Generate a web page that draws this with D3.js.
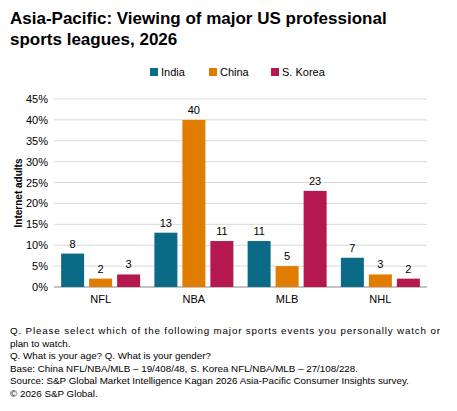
<!DOCTYPE html>
<html><head><meta charset="utf-8">
<script src="https://cdn.jsdelivr.net/npm/d3@7"></script>
<style>body{margin:0;background:#fff;font-family:"Liberation Sans",Arial,sans-serif}</style>
</head><body><svg id="c" width="457" height="411"></svg>
<script>
const leagues = ["NFL", "NBA", "MLB", "NHL"];
const seriesNames = ["India", "China", "S. Korea"];
const india = [8, 13, 11, 7];
const china = [2, 40, 5, 3];
const korea = [3, 11, 23, 2];
const yTicks = [0, 5, 10, 15, 20, 25, 30, 35, 40, 45];
const colors = ["#0b6b87", "#e07c00", "#b5174f"];
const notes = [
  "Q. Please select which of the following major sports events you personally watch or",
  "plan to watch.",
  "Q. What is your age? Q. What is your gender?",
  "Base: China NFL/NBA/MLB \u2013 19/408/48, S. Korea NFL/NBA/MLB \u2013 27/108/228.",
  "Source: S&P Global Market Intelligence Kagan 2026 Asia-Pacific Consumer Insights survey.",
  "\u00a9 2026 S&P Global."
];

const svg = d3.select("#c");
const all = [india, china, korea];

// title
svg.append("text").attr("x", 10).attr("y", 24).attr("font-size", 17).attr("font-weight", "bold")
  .text("Asia-Pacific: Viewing of major US professional");
svg.append("text").attr("x", 10).attr("y", 45).attr("font-size", 17).attr("font-weight", "bold")
  .text("sports leagues, 2026");

// legend
const lg = svg.append("g").attr("font-size", 11);
const lx = [150, 209, 271];
seriesNames.forEach((s, i) => {
  lg.append("rect").attr("x", lx[i]).attr("y", 68).attr("width", 8).attr("height", 8).attr("fill", colors[i]);
  lg.append("text").attr("x", lx[i] + 11).attr("y", 76).text(s);
});

const x0 = d3.scaleBand().domain(leagues).range([54, 427]).paddingInner(0).paddingOuter(0);
const y = d3.scaleLinear().domain([0, 45]).range([287, 99]);
const bw = 23;

// grid
svg.append("g").selectAll("line").data(yTicks).join("line")
  .attr("x1", 54).attr("x2", 427).attr("y1", d => y(d)).attr("y2", d => y(d))
  .attr("stroke", d => d ? "#d9d9d9" : "#888").attr("stroke-width", 1);

// y axis labels
svg.append("g").attr("font-size", 11).attr("text-anchor", "end").selectAll("text").data(yTicks).join("text")
  .attr("x", 48).attr("y", d => y(d) + 4).text(d => d + "%");
svg.append("text").attr("transform", "translate(22,193) rotate(-90)").attr("text-anchor", "middle")
  .attr("font-size", 10).attr("font-weight", "bold").text("Internet adults");

// bars
leagues.forEach((lg_, li) => {
  const cx = x0(lg_) + x0.bandwidth() / 2;
  all.forEach((arr, si) => {
    const bx = cx + (si - 1) * (bw + 5) - bw / 2;
    svg.append("rect").attr("x", bx).attr("y", y(arr[li])).attr("width", bw)
      .attr("height", y(0) - y(arr[li])).attr("fill", colors[si]);
    svg.append("text").attr("x", bx + bw / 2).attr("y", y(arr[li]) - 6).attr("text-anchor", "middle")
      .attr("font-size", 11).text(arr[li]);
  });
  svg.append("text").attr("x", cx).attr("y", 303).attr("text-anchor", "middle").attr("font-size", 11).text(lg_);
});

// notes
svg.append("g").attr("font-size", 9.8).selectAll("text").data(notes).join("text")
  .attr("x", 10).attr("y", (d, i) => 334 + i * 12.6)
  .attr("textLength", (d, i) => i === 0 ? 430 : null)
  .text(d => d);
</script></body></html>
